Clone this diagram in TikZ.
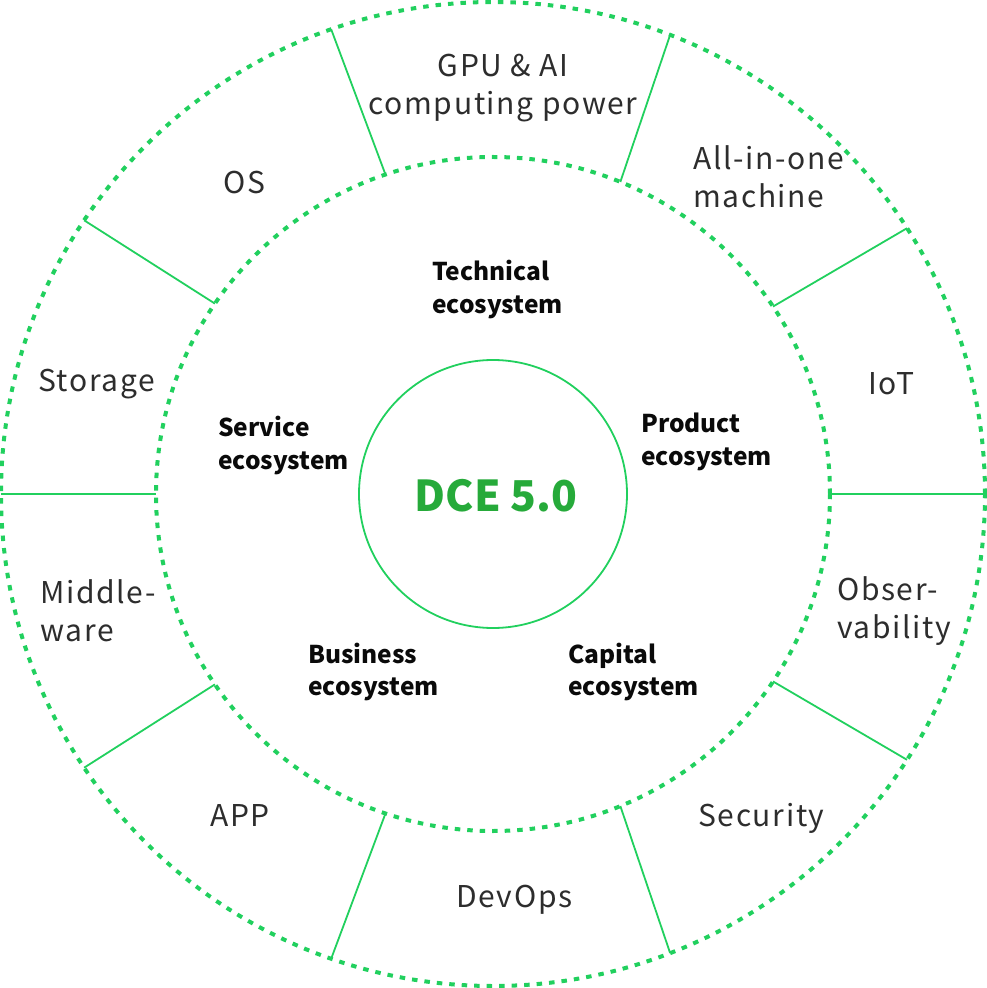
\documentclass[tikz,border=0pt]{standalone}
\usepackage{fontspec}
\setmainfont{Noto Sans CJK SC}
\newfontfamily\outerfont{Noto Sans CJK SC}[LetterSpace=5.5]
\definecolor{ringgreen}{RGB}{33,208,94}
\definecolor{coregreen}{RGB}{38,170,58}
\definecolor{outertext}{RGB}{45,45,45}
\definecolor{innertext}{RGB}{10,10,10}
\newcommand\labtwo[2]{\vtop{\hbox{#1}\hbox{#2}}}
\newcommand\labctr[2]{\vtop{\halign{\hfil##\hfil\cr #1\cr #2\cr}}}
\begin{document}
\begin{tikzpicture}[x=1pt,y=1pt,
  ring/.style={draw=ringgreen, line width=4pt, dash pattern=on 5.5pt off 7pt},
  divider/.style={draw=ringgreen, line width=1.8pt},
  corering/.style={draw=ringgreen, line width=1.8pt},
  outerlab/.style={inner sep=0pt, text=outertext, font=\outerfont\fontsize{30}{38}\selectfont},
  innerlab/.style={inner sep=0pt, text=innertext, font=\bfseries\fontsize{24.5}{32.5}\selectfont},
  corelab/.style={inner sep=0pt, text=coregreen, font=\bfseries\fontsize{42.5}{50}\selectfont}
]
\useasboundingbox (-493,-494) rectangle (494,494);
% dividers
\foreach \k/\ai/\ao in {0/0/0, 1/33.8/32.7, 2/67.8/68.9, 3/108.6/109.2, 4/145.6/146.2,
  5/180/180, 6/-33.8/-32.7, 7/-67.8/-68.9, 8/-108.6/-109.2, 9/-145.6/-146.2}{
  \coordinate (in\k) at (\ai:337);
  \coordinate (out\k) at (\ao:492);
  \draw[divider] (in\k) -- (out\k);
}
% rings
\coordinate (c) at (0,0);
\draw[ring] (c) circle (492);
\draw[ring] (c) circle (337);
\node[circle, corering, minimum size=268pt, inner sep=0pt] (core) at (c) {};
\node[corelab, anchor=base] (dce) at (3,-17) {DCE 5.0};
% outer labels
\node[outerlab, anchor=base] (gpu) at (10,417) {\labctr{GPU \& AI}{computing power}};
\node[outerlab, anchor=base west] (os) at (-270,300) {OS};
\node[outerlab, anchor=base west] (aio) at (200,324) {\labtwo{All-in-one}{machine}};
\node[outerlab, anchor=base west] (storage) at (-455,102) {Storage};
\node[outerlab, anchor=base west] (iot) at (375,99) {IoT};
\node[outerlab, anchor=base west] (mid) at (-453,-109) {\labtwo{Middle-}{ware}};
\node[outerlab, anchor=base west] (obs) at (344,-106) {\labtwo{Obser-}{vability}};
\node[outerlab, anchor=base west] (app) at (-283,-332) {APP};
\node[outerlab, anchor=base west] (devops) at (-37,-413) {DevOps};
\node[outerlab, anchor=base west] (sec) at (205,-332) {Security};
% inner labels
\node[innerlab, anchor=base west] (tech) at (-61,213) {\labtwo{Technical}{ecosystem}};
\node[innerlab, anchor=base west] (prod) at (148,61) {\labtwo{Product}{ecosystem}};
\node[innerlab, anchor=base west] (serv) at (-275,57) {\labtwo{Service}{ecosystem}};
\node[innerlab, anchor=base west] (bus) at (-185,-169) {\labtwo{Business}{ecosystem}};
\node[innerlab, anchor=base west] (cap) at (75,-169) {\labtwo{Capital}{ecosystem}};
\end{tikzpicture}
\end{document}
